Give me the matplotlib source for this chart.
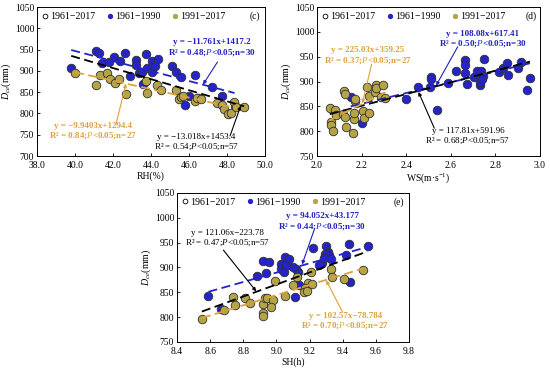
import numpy as np
import matplotlib
matplotlib.use("Agg")
import matplotlib.pyplot as plt
from matplotlib.lines import Line2D

plt.rcParams['font.family'] = ['Liberation Serif', 'DejaVu Serif']
plt.rcParams['mathtext.fontset'] = 'custom'
plt.rcParams['mathtext.rm'] = 'Liberation Serif'
plt.rcParams['mathtext.it'] = 'Liberation Serif:italic'
plt.rcParams['mathtext.bf'] = 'Liberation Serif:bold'

# ---------------- data ----------------
# Panel (c): RH
rh_early = [39.8, 41.1, 41.25, 41.4, 41.8, 42.05, 42.35, 42.65, 42.9, 43.2, 43.2, 43.35, 43.5, 43.75, 43.8,
            43.6, 44.07, 44.07, 44.2, 44.35, 45.1, 45.3, 45.6, 46.0, 45.8, 46.3, 47.2, 47.75, 46.5, 48.4]
dce_rh_early = [907, 947, 943, 919, 920, 933, 923, 942, 889, 925, 915, 894, 897, 940, 907,
                870, 924, 897, 911, 928, 911, 897, 885, 841, 819, 890, 863, 841, 836, 818]
rh_late = [40.0, 41.1, 41.3, 41.7, 41.85, 42.1, 42.3, 42.7, 43.75, 43.8, 44.3, 44.55, 45.3, 45.5,
           45.6, 45.7, 46.3, 46.4, 46.65, 47.5, 47.75, 47.85, 48.05, 48.2, 48.35, 48.9, 48.5]
dce_rh_late = [895, 866, 891, 895, 880, 872, 880, 845, 876, 848, 867, 856, 854, 835,
               839, 841, 829, 837, 833, 824, 819, 810, 798, 802, 827, 816, 816]

# Panel (d): WS
ws_early = [2.151, 2.202, 2.398, 2.454, 2.506, 2.510, 2.513, 2.540, 2.588, 2.623, 2.663, 2.663, 2.663,
            2.671, 2.705, 2.716, 2.731, 2.732, 2.735, 2.746, 2.750, 2.816, 2.835, 2.850, 2.855, 2.900,
            2.915, 2.940, 2.955, 2.74]
dce_ws_early = [868, 817, 864, 889, 889, 910, 905, 843, 897, 922, 944, 934, 918,
                895, 909, 921, 893, 900, 922, 911, 945, 920, 927, 938, 913, 927,
                940, 882, 908, 906]
ws_late = [2.057, 2.061, 2.064, 2.072, 2.079, 2.087, 2.117, 2.121, 2.124, 2.124, 2.129, 2.162, 2.165,
           2.166, 2.169, 2.172, 2.207, 2.211, 2.222, 2.232, 2.234, 2.262, 2.263, 2.266, 2.289, 2.296, 2.307]
dce_ws_late = [847, 818, 812, 800, 843, 832, 835, 880, 875, 828, 808, 797, 825,
               837, 860, 864, 841, 826, 889, 870, 837, 878, 893, 886, 868, 893, 866]

# Panel (e): SH
sh_early = [8.59, 8.665, 8.885, 8.92, 8.955, 8.935, 9.03, 9.05, 9.075, 9.03, 9.045, 9.12, 9.115, 9.135,
            9.13, 9.22, 9.30, 9.31, 9.32, 9.295, 9.275, 9.285, 9.42, 9.44, 9.55, 9.447, 9.10, 9.33,
            9.06, 9.255]
dce_sh_early = [842, 817, 883, 913, 911, 888, 908, 921, 918, 897, 891, 897, 840, 864,
                891, 940, 943, 931, 925, 928, 909, 920, 926, 947, 944, 870, 900, 918,
                905, 905]
sh_late = [8.55, 8.685, 8.74, 8.75, 8.81, 8.84, 8.92, 8.93, 8.946, 8.98, 8.968, 8.92, 8.92, 8.993,
           9.05, 9.125, 9.10, 9.21, 9.33, 9.336, 9.407, 9.52, 9.19, 9.17, 9.166, 9.186, 9.217]
dce_sh_late = [797, 815, 841, 825, 839, 828, 826, 838, 838, 834, 820, 809, 803, 872,
               843, 880, 864, 891, 896, 881, 876, 894, 869, 858, 851, 853, 866]

# regression coefficients (slope, intercept) as printed: all, early, late
fit_c = {'all': (-13.018, 1453.4), 'early': (-11.761, 1417.2), 'late': (-9.9403, 1294.4)}
fit_d = {'all': (117.81, 591.96), 'early': (108.08, 617.41), 'late': (225.03, 359.25)}
fit_e = {'all': (121.06, -223.78), 'early': (94.052, 43.177), 'late': (102.57, -78.784)}

labels_c = {'early': "y = −11.761x+1417.2\nR² = 0.48;$\\mathit{P}$<0.05;n=30",
            'late': "y = −9.9403x+1294.4\nR² = 0.84;$\\mathit{P}$<0.05;n=27",
            'all': "y = −13.018x+1453.4\nR² = 0.54;$\\mathit{P}$<0.05;n=57"}
labels_d = {'early': "y = 108.08x+617.41\nR² = 0.50;$\\mathit{P}$<0.05;n=30",
            'late': "y = 225.03x+359.25\nR² = 0.37;$\\mathit{P}$<0.05;n=27",
            'all': "y = 117.81x+591.96\nR² = 0.68;$\\mathit{P}$<0.05;n=57"}
labels_e = {'early': "y = 94.052x+43.177\nR² = 0.44;$\\mathit{P}$<0.05;n=30",
            'late': "y = 102.57x−78.784\nR² = 0.70;$\\mathit{P}$<0.05;n=27",
            'all': "y = 121.06x−223.78\nR² = 0.47;$\\mathit{P}$<0.05;n=57"}

legend_labels = ["1961−2017", "1961−1990", "1991−2017"]

# ---------------- style ----------------
BLUE = '#2424C8'
BLUE_TXT = '#2020C0'
OLIVE = '#B5A446'
ORANGE = '#DDA23E'
EDGE = '#303030'
FS = 6.9
FS_ANN = 6.5

fig = plt.figure(figsize=(5.5, 3.71), dpi=100)
ax_c = fig.add_axes([0.0673, 0.5795, 0.4145, 0.4015])
ax_d = fig.add_axes([0.5764, 0.5795, 0.4054, 0.4015])
ax_e = fig.add_axes([0.3218, 0.0782, 0.4218, 0.4016])


def draw_panel(ax, xe, ye, xl, yl, fits, labels, ann, xlim, ylim, xticks, yticks, xfmt, xlabel, tag, tagpos):
    xe, ye, xl, yl = map(np.asarray, (xe, ye, xl, yl))
    xa = np.concatenate([xe, xl])
    ms = 38
    ax.scatter(xe, ye, s=ms, facecolor=BLUE, edgecolor=EDGE, linewidth=0.6, zorder=3)
    ax.scatter(xl, yl, s=ms, facecolor=OLIVE, edgecolor=EDGE, linewidth=0.6, zorder=3)
    # regression lines
    for key, xs, col in (('early', xe, BLUE), ('all', xa, 'black'), ('late', xl, ORANGE)):
        k, b = fits[key]
        xx = np.array([xs.min(), xs.max()])
        ax.plot(xx, k * xx + b, color=col, lw=1.3, ls=(0, (5, 2.5)), zorder=4)
    # annotations
    for key, col, weight in (('early', BLUE_TXT, 'bold'), ('late', ORANGE, 'bold'), ('all', 'black', 'normal')):
        tpos, tail, head = ann[key]
        ax.text(tpos[0], tpos[1], labels[key], color=col, fontsize=FS_ANN, fontweight=weight,
                ha='center', va='center', linespacing=1.1, zorder=5)
        ax.annotate('', xy=head, xytext=tail,
                    arrowprops=dict(arrowstyle='-|>', color=col, lw=0.8, mutation_scale=5,
                                    shrinkA=0, shrinkB=0), zorder=5)
    ax.set_xlim(*xlim)
    ax.set_ylim(*ylim)
    ax.set_xticks(xticks)
    ax.set_xticklabels([xfmt.format(v) for v in xticks])
    ax.set_yticks(yticks)
    ax.tick_params(direction='in', length=2.5, width=0.6, labelsize=FS, pad=2)
    ax.tick_params(axis='x', pad=3.5)
    for s in ax.spines.values():
        s.set_linewidth(0.7)
    ax.set_xlabel(xlabel, fontsize=FS, labelpad=1)
    ax.set_ylabel(r'$D_{ce}$(mm)', fontsize=FS + 0.3, labelpad=1)
    ax.text(tagpos[0], tagpos[1], tag, fontsize=FS, ha='right', va='center')
    handles = [Line2D([], [], ls='none', marker='o', markersize=3.4, markerfacecolor='none',
                      markeredgecolor='black', markeredgewidth=0.6),
               Line2D([], [], ls='none', marker='o', markersize=2.8, markerfacecolor=BLUE,
                      markeredgecolor=BLUE),
               Line2D([], [], ls='none', marker='o', markersize=2.8, markerfacecolor=OLIVE,
                      markeredgecolor=OLIVE)]
    ax.legend(handles, legend_labels, loc='upper left', ncol=3, frameon=False, fontsize=FS + 0.2,
              handlelength=0.6, handletextpad=0.2, columnspacing=1.2, borderaxespad=0.3,
              borderpad=0.2)


ann_c = {'early': ((47.2, 954), (47.5, 921), (46.74, 868)),
         'late': ((40.95, 758), (42.16, 775), (42.68, 870)),
         'all': ((46.4, 732), (48.16, 747), (48.72, 818))}
draw_panel(ax_c, rh_early, dce_rh_early, rh_late, dce_rh_late, fit_c, labels_c, ann_c,
           (38, 50), (700, 1050), np.arange(38, 50.1, 2), np.arange(700, 1051, 50), '{:.1f}',
           'RH(%)', '(c)', (49.75, 1029))

ann_d = {'early': ((2.742, 985), (2.631, 970), (2.534, 892)),
         'late': ((2.229, 952), (2.245, 935), (2.203, 856)),
         'all': ((2.677, 789), (2.526, 806), (2.455, 879))}
draw_panel(ax_d, ws_early, dce_ws_early, ws_late, dce_ws_late, fit_d, labels_d, ann_d,
           (2.0, 3.0), (750, 1050), np.arange(2.0, 3.01, 0.2), np.arange(750, 1051, 50), '{:.1f}',
           r'WS(m·s$^{-1}$)', '(d)', (2.985, 1032))

ann_e = {'early': ((9.277, 991), (9.228, 976), (9.155, 906)),
         'late': ((9.415, 791), (9.398, 811), (9.30, 874)),
         'all': ((8.705, 959), (8.68, 935), (8.878, 852))}
draw_panel(ax_e, sh_early, dce_sh_early, sh_late, dce_sh_late, fit_e, labels_e, ann_e,
           (8.4, 9.8), (750, 1050), np.arange(8.4, 9.81, 0.2), np.arange(750, 1051, 50), '{:.1f}',
           'SH(h)', '(e)', (9.77, 1031))

fig.savefig('out.png', dpi=100)
